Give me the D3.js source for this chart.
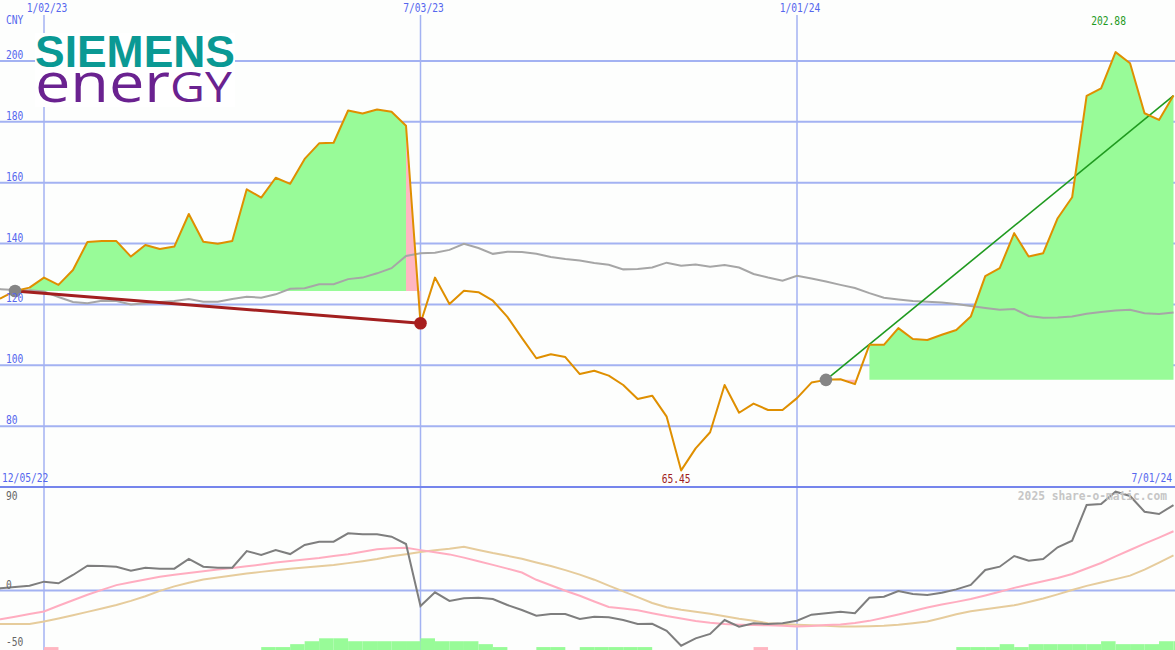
<!DOCTYPE html>
<html><head><meta charset="utf-8">
<script src="https://cdn.jsdelivr.net/npm/d3@7"></script>
<style>html,body{margin:0;padding:0;background:#fdfefd}svg{display:block}</style>
</head><body>
<svg id="c" width="1175" height="650"></svg>
<script>
// ---------- data ----------
const firstWeek = "2022-12-05", lastWeek = "2024-07-01";
const dates = d3.timeMonday.range(new Date(2022, 11, 5), new Date(2024, 6, 2)); // weekly categories
const price = [121.0,122.0,124.4,125.5,128.8,126.4,131.3,140.5,140.8,140.8,
  135.7,139.5,138.2,139.0,149.7,140.6,139.9,140.8,157.8,155.1,
  161.6,159.6,167.8,172.9,173.1,183.7,182.7,184.0,183.3,178.7,
  113.8,128.8,120.1,124.5,124.0,121.2,115.9,109.0,102.3,103.6,
  102.7,97.1,98.2,96.6,93.5,88.9,90.0,83.1,65.45,72.7,
  78.0,93.5,84.4,87.4,85.3,85.3,89.2,94.3,95.2,95.4,
  93.8,106.7,106.7,112.2,108.6,108.3,110.0,111.6,116.0,129.3,
  131.9,143.4,135.7,136.8,148.3,155.2,188.5,191.0,202.88,199.2,
  182.8,180.6,188.6];
const avg = [125.4,125.0,124.7,124.6,124.2,122.4,120.8,120.4,121.2,121.1,
  120.0,120.4,120.8,121.1,121.8,120.9,120.9,121.8,122.5,122.2,
  123.3,125.1,125.3,126.6,126.6,128.3,128.8,130.2,131.9,135.9,
  136.8,137.0,137.9,139.9,138.5,136.6,137.3,137.2,136.6,135.6,
  134.9,134.4,133.6,133.0,131.5,131.6,132.1,133.7,132.7,133.1,
  132.4,132.9,132.1,130.0,128.8,127.8,129.4,128.5,127.5,126.4,
  125.4,123.7,122.2,121.6,121.1,120.9,120.6,120.1,119.5,118.8,
  118.2,118.5,116.2,115.6,115.7,116.0,116.9,117.5,118.0,118.2,
  117.1,116.8,117.3];
const osc = [0.5,1.9,3.0,4.2,7.7,6.3,13.5,21.6,21.3,20.7,
  17.2,19.8,19.0,19.0,27.4,20.7,19.8,19.8,34.3,30.9,
  35.2,31.7,39.6,42.4,42.4,49.7,48.9,48.9,46.8,40.4,
  -13.5,-1.6,-9.1,-6.8,-6.3,-7.4,-12.6,-17.0,-21.9,-20.4,
  -20.4,-24.8,-22.8,-23.3,-25.7,-29.1,-28.9,-35.0,-48.0,-41.6,
  -37.8,-25.7,-31.5,-28.5,-29.1,-28.5,-26.3,-21.0,-19.8,-18.4,
  -19.8,-6.3,-5.4,-0.4,-3.0,-3.9,-1.9,1.0,4.8,17.8,
  20.7,30.0,25.9,27.4,37.6,43.3,74.3,75.2,85.9,82.2,
  68.5,66.5,74.3];
const oscFast = [-27.4,-25.0,-22.8,-20.4,-18.3,-13.3,-8.5,-3.7,0.5,4.7,
  7.1,9.6,12.0,13.6,15.2,16.7,18.2,19.6,21.0,22.6,
  24.3,25.7,27.0,28.3,30.0,31.5,33.7,35.8,36.8,37.2,
  35.1,33.2,31.4,28.6,25.5,22.3,19.0,15.6,9.3,4.6,
  -0.2,-4.6,-9.6,-14.3,-15.7,-17.1,-19.7,-22.2,-24.4,-26.5,
  -28.1,-29.2,-29.7,-30.0,-30.3,-30.7,-31.3,-30.9,-30.0,-29.5,
  -28.3,-26.4,-23.7,-20.8,-17.8,-14.7,-12.2,-9.9,-7.4,-4.3,
  -1.1,2.3,5.3,8.1,10.9,14.3,19.1,23.9,29.6,35.2,
  40.7,46.0,51.5];
const oscSlow = [-29.6,-29.1,-29.1,-29.1,-27.0,-24.3,-21.5,-18.6,-15.7,-12.6,
  -9.0,-5.0,-0.3,3.6,6.7,9.6,11.3,13.0,14.7,16.2,
  17.7,19.0,20.0,21.1,22.2,23.8,25.5,27.3,29.7,31.6,
  33.4,34.9,36.3,38.0,35.3,32.6,30.2,27.6,24.4,21.3,
  17.7,13.8,9.4,4.3,-0.7,-5.7,-10.9,-14.6,-16.8,-18.4,
  -20.3,-22.4,-24.5,-26.3,-28.4,-29.2,-29.8,-30.3,-30.7,-31.2,
  -31.4,-31.0,-30.7,-29.8,-28.4,-27.0,-23.9,-20.6,-18.0,-16.3,
  -14.6,-12.9,-10.0,-6.9,-3.4,0.4,4.0,7.0,9.9,12.9,
  18.2,24.3,30.5];
const hist = [0,0,0,0,-1,0,0,0,0,0,
  0,0,0,0,0,0,0,0,0,1,
  1,2,3,4,4,3,3,3,3,3,
  4,3,3,3,2,1,0,0,1,1,
  0,1,1,1,1,1,0,0,0,0,
  0,0,0,-1,0,0,0,0,0,0,
  0,0,0,0,0,0,0,1,1,1,
  2,1,2,2,2,2,2,3,2,2,
  2,3,3];
// signal spans: [fromIndex, toIndex, kind, baselineIndex]
const fillSpans = [[3, 29, "up", 2], [29, 30, "down", 2], [59, 60, "down", 58], [61, 82, "up", 58]];
const redTrend = [2, 30];
const greenTrend = [58, 82];
const maxIndex = 78, minIndex = 48;
const priceTicks = [80, 100, 120, 140, 160, 180, 200];
const oscTicks = [90, 0, -50];
const dateTicks = ["1/02/23", "7/03/23", "1/01/24"];
const currency = "CNY";
const credit = "2025 share-o-matic.com";

// ---------- scales ----------
const parse = d3.timeParse("%m/%d/%y");
const x = d3.scaleTime().domain([parse("01/02/23"), parse("01/01/24")]).range([44, 797]);
const y = d3.scaleLinear().domain([60, 220]).range([487, 0]);
const yo = d3.scaleLinear().domain([-50, 90]).range([648, 487]);
const yh = d3.scaleLinear().domain([0, 4]).range([650, 638.3]);

const svg = d3.select("#c");
const W = 1175, H = 650;
const BLUE = "#5566ee", GRID = "#a3b2f2";
const GREEN = "#98fb98", PINK = "#ffb6c1";

svg.append("rect").attr("width", W).attr("height", H).attr("fill", "#fdfefd");

// grid
const g = svg.append("g");
g.selectAll(".hg").data(priceTicks).join("line")
  .attr("x1", 0).attr("x2", W).attr("y1", d => y(d)).attr("y2", d => y(d))
  .attr("stroke", GRID).attr("stroke-width", 2);
g.selectAll(".vg").data(dateTicks).join("line")
  .attr("x1", d => x(parse(d))).attr("x2", d => x(parse(d)))
  .attr("y1", 15).attr("y2", H).attr("stroke", GRID).attr("stroke-width", 1.5);
g.append("line").attr("x1", 0).attr("x2", W).attr("y1", yo(0)).attr("y2", yo(0))
  .attr("stroke", GRID).attr("stroke-width", 2);
g.append("line").attr("x1", 0).attr("x2", W).attr("y1", 487).attr("y2", 487)
  .attr("stroke", "#7585ec").attr("stroke-width", 2);

// fills
fillSpans.forEach(([a, b, kind, bi]) => {
  const idx = d3.range(a, b + 1);
  const base = price[bi];
  const area = d3.area().x(i => x(dates[i])).y0(y(base)).y1(i => y(price[i]));
  svg.append("path").attr("d", area(idx)).attr("fill", kind === "up" ? GREEN : PINK);
});

// main lines
const lineOf = (arr, sc) => d3.line().x((d, i) => x(dates[i])).y(d => sc(d))(arr);
svg.append("path").attr("d", lineOf(avg, y)).attr("fill", "none")
  .attr("stroke", "#a6a6a6").attr("stroke-width", 2);

const seg = (pair) => pair.map(i => [x(dates[i]), y(price[i])]);
svg.append("path").attr("d", d3.line()(seg(redTrend))).attr("stroke", "#a21f1f")
  .attr("stroke-width", 3).attr("fill", "none");
svg.append("path").attr("d", d3.line()(seg(greenTrend))).attr("stroke", "#1f9a1f")
  .attr("stroke-width", 1.6).attr("fill", "none");

svg.append("path").attr("d", lineOf(price, y)).attr("fill", "none")
  .attr("stroke", "#df8f00").attr("stroke-width", 2).attr("stroke-linejoin", "round");

// dots
[[redTrend[0], "#858585"], [greenTrend[0], "#858585"], [redTrend[1], "#a81e1e"]].forEach(([i, c]) => {
  svg.append("circle").attr("cx", x(dates[i])).attr("cy", y(price[i])).attr("r", 6.3).attr("fill", c);
});

// histogram
hist.forEach((v, i) => {
  if (!v) return;
  const x0 = x(dates[i]);
  const x1 = i + 1 < dates.length ? x(dates[i + 1]) : x0 + 14.5;
  svg.append("rect").attr("x", x0).attr("width", x1 - x0)
    .attr("y", yh(Math.abs(v))).attr("height", yh(0) - yh(Math.abs(v)))
    .attr("fill", v > 0 ? GREEN : PINK);
});

// oscillator lines
svg.append("path").attr("d", lineOf(oscSlow, yo)).attr("fill", "none").attr("stroke", "#e6cc9c").attr("stroke-width", 2);
svg.append("path").attr("d", lineOf(oscFast, yo)).attr("fill", "none").attr("stroke", "#ffadc0").attr("stroke-width", 2);
svg.append("path").attr("d", lineOf(osc, yo)).attr("fill", "none").attr("stroke", "#7e7e7e").attr("stroke-width", 2);

// text helper: narrow glyphs via a horizontal scale transform
function label(tx, ty, str, opt = {}) {
  const len = str.length * (opt.cw || 5.8);
  const anchor = opt.anchor || "start";
  const sx = anchor === "end" ? tx - len : anchor === "middle" ? tx - len / 2 : tx;
  const grp = svg.append("g");
  const t = grp.append("text").attr("x", 0).attr("y", 0).text(str)
    .attr("font-family", "'DejaVu Sans Mono','Liberation Mono',monospace")
    .attr("font-size", opt.size || 12)
    .attr("fill", opt.color || BLUE);
  if (opt.bold) t.attr("font-weight", "bold");
  const natural = t.node().getComputedTextLength() || len;
  grp.attr("transform", `translate(${sx},${ty}) scale(${len / natural},1)`);
  return t;
}

priceTicks.forEach(v => label(6, y(v) - 2, String(v)));
label(6, 24, currency);
dateTicks.forEach(d => label(x(parse(d)) + 3, 12, d, { anchor: "middle" }));
label(2, 482, d3.timeFormat("%m/%d/%y")(dates[0]));
label(1172, 482, d3.timeFormat("%-m/%d/%y")(dates[dates.length - 1]), { anchor: "end" });
label(x(dates[maxIndex]) - 7, 25, d3.format(".2f")(price[maxIndex]), { anchor: "middle", color: "#1f9a1f" });
label(x(dates[minIndex]) - 5, 483, d3.format(".2f")(price[minIndex]), { anchor: "middle", color: "#a01c1c" });
label(1167, 500, credit, { anchor: "end", color: "#c6c6c6", bold: true, size: 13, cw: 6.78 });
label(6, 500, String(oscTicks[0]), { color: "#666" });
label(6, yo(oscTicks[1]) - 2, String(oscTicks[1]), { color: "#666" });
label(6, 646, String(oscTicks[2]), { color: "#666" });

// logo
const logo = svg.append("g");
logo.append("rect").attr("x", 35).attr("y", 33).attr("width", 200).attr("height", 74).attr("fill", "#ffffff");
logo.append("text").attr("x", 35).attr("y", 67).text("SIEMENS")
  .attr("font-family", "'Liberation Sans',Arial,sans-serif").attr("font-weight", "bold")
  .attr("font-size", 44).attr("fill", "#0a9994")
  .attr("textLength", 200).attr("lengthAdjust", "spacingAndGlyphs");
const en = logo.append("text").attr("x", 35).attr("y", 102)
  .attr("font-family", "'Open Sans','DejaVu Sans',sans-serif")
  .attr("fill", "#6a2290").attr("textLength", 197).attr("lengthAdjust", "spacingAndGlyphs");
en.append("tspan").attr("font-size", 55).text("ener");
en.append("tspan").attr("font-size", 42).text("GY");
</script>
</body></html>
